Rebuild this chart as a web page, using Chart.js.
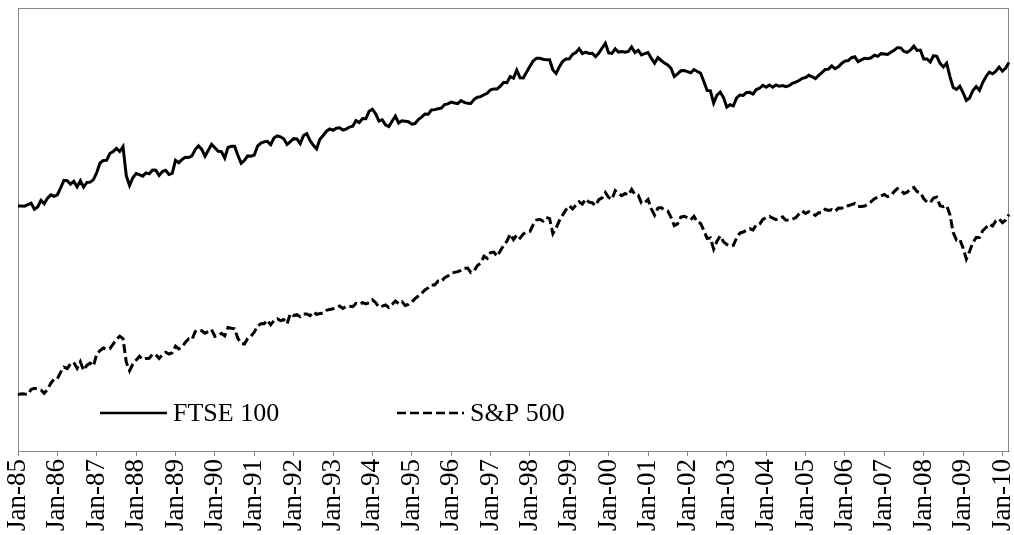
<!DOCTYPE html>
<html>
<head>
<meta charset="utf-8">
<script src="https://cdn.jsdelivr.net/npm/chart.js@4"></script>
<style>
  html, body { margin: 0; padding: 0; background: #fff; }
  #wrap { width: 1014px; height: 535px; }
</style>
</head>
<body>
<div id="wrap"><canvas id="chart1"></canvas></div>
<script>
// monthly closes, Jan-85 .. Mar-10
let ftse100 = [
  1277, 1277, 1275, 1296, 1315, 1235, 1265, 1353, 1306, 1386, 1434, 1413,
  1435, 1543, 1668, 1660, 1603, 1649, 1558, 1661, 1555, 1632, 1636, 1679,
  1808, 1997, 2050, 2055, 2203, 2248, 2323, 2250, 2366, 1749, 1580, 1713,
  1790, 1768, 1742, 1802, 1784, 1857, 1853, 1754, 1826, 1852, 1771, 1793,
  2052, 2002, 2073, 2118, 2114, 2151, 2297, 2387, 2299, 2142, 2277, 2423,
  2338, 2255, 2248, 2103, 2345, 2375, 2375, 2163, 1991, 2050, 2149, 2144,
  2170, 2380, 2456, 2487, 2500, 2415, 2589, 2645, 2622, 2566, 2420, 2493,
  2571, 2562, 2440, 2655, 2708, 2521, 2400, 2313, 2553, 2658, 2778, 2847,
  2807, 2868, 2879, 2813, 2840, 2900, 2927, 3100, 3038, 3171, 3166, 3418,
  3491, 3328, 3086, 3125, 2970, 2919, 3082, 3251, 3026, 3097, 3081, 3066,
  2991, 3009, 3138, 3216, 3320, 3315, 3463, 3477, 3508, 3529, 3664, 3689,
  3760, 3727, 3699, 3818, 3747, 3711, 3703, 3867, 3953, 3980, 4059, 4119,
  4275, 4309, 4313, 4437, 4622, 4604, 4907, 4818, 5244, 4842, 4831, 5136,
  5458, 5767, 5932, 5928, 5870, 5833, 5837, 5249, 5064, 5438, 5743, 5883,
  5896, 6175, 6296, 6552, 6226, 6319, 6231, 6246, 6030, 6255, 6598, 6930,
  6269, 6233, 6540, 6327, 6360, 6313, 6365, 6673, 6294, 6438, 6142, 6223,
  6298, 5918, 5634, 5967, 5796, 5643, 5529, 5345, 4903, 5040, 5204, 5217,
  5165, 5101, 5272, 5166, 5086, 4656, 4246, 4227, 3722, 4040, 4169, 3940,
  3567, 3656, 3613, 3926, 4049, 4031, 4157, 4161, 4091, 4287, 4342, 4477,
  4390, 4492, 4386, 4489, 4431, 4464, 4413, 4459, 4571, 4624, 4703, 4814,
  4852, 4968, 4894, 4801, 4964, 5113, 5282, 5297, 5478, 5317, 5423, 5619,
  5760, 5792, 5965, 6023, 5723, 5833, 5928, 5906, 5961, 6129, 6049, 6221,
  6203, 6172, 6308, 6449, 6621, 6608, 6360, 6303, 6467, 6722, 6432, 6457,
  5880, 5884, 5702, 6087, 6054, 5626, 5412, 5637, 4902, 4377, 4288, 4434,
  4149, 3830, 3926, 4244, 4418, 4249, 4608, 4909, 5134, 5045, 5191, 5413,
  5189, 5355, 5680
];
let sp500 = [
  179.6, 181.2, 180.7, 179.8, 189.6, 191.9, 190.9, 188.6, 182.1, 189.8, 202.2, 211.3,
  211.8, 226.9, 238.9, 235.5, 247.4, 250.8, 236.1, 252.9, 231.3, 244.0, 249.2, 242.2,
  274.1, 284.2, 291.7, 288.4, 290.1, 304.0, 318.7, 329.8, 321.8, 251.8, 230.3, 247.1,
  257.1, 267.8, 258.9, 261.3, 262.2, 273.5, 272.0, 261.5, 271.9, 279.0, 273.7, 277.7,
  297.5, 288.9, 294.9, 309.6, 320.5, 318.0, 346.1, 351.5, 349.2, 340.4, 346.0, 353.4,
  329.1, 331.9, 339.9, 330.8, 361.2, 358.0, 356.2, 322.6, 306.1, 304.0, 322.2, 330.2,
  343.9, 367.1, 375.2, 375.3, 389.8, 371.2, 387.8, 395.4, 387.9, 392.5, 375.2, 417.1,
  408.8, 412.7, 403.7, 414.9, 415.4, 408.1, 424.2, 414.0, 417.8, 418.7, 431.4, 435.7,
  438.8, 443.4, 451.7, 440.2, 450.2, 450.5, 448.1, 463.6, 458.9, 467.8, 461.8, 466.5,
  481.6, 467.1, 445.8, 450.9, 456.5, 444.3, 458.3, 475.5, 462.7, 472.4, 453.7, 459.3,
  470.4, 487.4, 500.7, 514.7, 533.4, 544.8, 562.1, 561.9, 584.4, 581.5, 605.4, 615.9,
  636.0, 640.4, 645.5, 654.2, 669.1, 670.6, 640.0, 652.0, 687.3, 705.3, 757.0, 740.7,
  786.2, 790.8, 757.1, 801.3, 848.3, 885.1, 954.3, 899.5, 947.3, 914.6, 955.4, 970.4,
  980.3, 1049.3, 1101.8, 1111.8, 1090.8, 1133.8, 1120.7, 957.3, 1017.0, 1098.7, 1163.6, 1229.2,
  1279.6, 1238.3, 1286.4, 1335.2, 1301.8, 1372.7, 1328.7, 1320.4, 1282.7, 1362.9, 1388.9, 1469.3,
  1394.5, 1366.4, 1498.6, 1452.4, 1420.6, 1454.6, 1430.8, 1517.7, 1436.5, 1429.4, 1315.2, 1320.3,
  1366.0, 1239.9, 1160.3, 1249.5, 1255.8, 1224.4, 1211.2, 1133.6, 1040.9, 1059.8, 1139.5, 1148.1,
  1130.2, 1106.7, 1147.4, 1076.9, 1067.1, 989.8, 911.6, 916.1, 815.3, 885.8, 936.3, 879.8,
  855.7, 841.2, 848.2, 916.9, 963.6, 974.5, 990.3, 1008.0, 996.0, 1050.7, 1058.2, 1111.9,
  1131.1, 1144.9, 1126.2, 1107.3, 1120.7, 1140.8, 1101.7, 1104.2, 1114.6, 1130.2, 1173.8, 1211.9,
  1181.3, 1203.6, 1180.6, 1156.9, 1191.5, 1191.3, 1234.2, 1220.3, 1228.8, 1207.0, 1249.5, 1248.3,
  1280.1, 1280.7, 1294.8, 1310.6, 1270.1, 1270.2, 1276.7, 1303.8, 1335.9, 1377.9, 1400.6, 1418.3,
  1438.2, 1406.8, 1420.9, 1482.4, 1530.6, 1503.4, 1455.3, 1474.0, 1526.8, 1549.4, 1481.1, 1468.4,
  1378.6, 1330.6, 1322.7, 1385.6, 1400.4, 1280.0, 1267.4, 1282.8, 1166.4, 968.8, 896.2, 903.3,
  825.9, 735.1, 797.9, 872.8, 919.1, 919.3, 987.5, 1020.6, 1057.1, 1036.2, 1095.6, 1115.1,
  1073.9, 1104.5, 1169.4
];
let monthNames = ["Jan", "Feb", "Mar", "Apr", "May", "Jun", "Jul", "Aug", "Sep", "Oct", "Nov", "Dec"];
let seriesNames = ["FTSE 100", "S&P 500"];

// category labels Jan-85 .. Mar-10
let months = [];
for (let i = 0; i < ftse100.length; i++) {
  let yy = (85 + Math.floor(i / 12)) % 100;
  months.push(monthNames[i % 12] + "-" + String(yy).padStart(2, "0"));
}

const axisGrey = "#868686";
const fontFamily = "'Liberation Serif', 'Times New Roman', serif";

// plot frame + legend drawn inside the plot area
const frameAndLegend = {
  id: "frameAndLegend",
  beforeDatasetsDraw(chart) {
    const a = chart.chartArea;
    const c = chart.ctx;
    c.save();
    c.strokeStyle = axisGrey;
    c.lineWidth = 1;
    c.strokeRect(Math.round(a.left) + 0.5, Math.round(a.top) + 0.5,
                 Math.round(a.right - a.left) - 1, Math.round(a.bottom - a.top));
    c.restore();
  },
  afterDatasetsDraw(chart) {
    const a = chart.chartArea;
    const c = chart.ctx;
    const starts = [82, 379];
    const y = a.bottom - 38;
    c.save();
    c.font = "26px " + fontFamily;
    c.textBaseline = "middle";
    c.fillStyle = "#000";
    chart.data.datasets.forEach((ds, i) => {
      const x0 = a.left + starts[i];
      c.beginPath();
      c.setLineDash(ds.borderDash || []);
      c.strokeStyle = ds.borderColor;
      c.lineWidth = 2.5;
      c.moveTo(x0, y);
      c.lineTo(x0 + 67, y);
      c.stroke();
      c.setLineDash([]);
      c.fillText(ds.label, x0 + 73, y + 1);
    });
    c.restore();
  }
};

new Chart("chart1", {
  type: "line",
  data: {
    labels: months,
    datasets: [{
      label: seriesNames[0],
      data: ftse100,
      borderColor: "#000",
      borderWidth: 3,
      pointRadius: 0,
      tension: 0
    }, {
      label: seriesNames[1],
      data: sp500,
      borderColor: "#000",
      borderWidth: 3,
      borderDash: [9, 4],
      pointRadius: 0,
      tension: 0
    }]
  },
  options: {
    responsive: true,
    maintainAspectRatio: false,
    animation: false,
    layout: { padding: { left: 18, top: 8, right: 5, bottom: 0 } },
    plugins: {
      legend: { display: false },
      tooltip: { enabled: false }
    },
    scales: {
      x: {
        type: "category",
        offset: false,
        border: { display: true, color: axisGrey, width: 1 },
        grid: {
          drawOnChartArea: false,
          drawTicks: true,
          tickLength: 5,
          color: ctx => (ctx.index % 12 === 0 ? axisGrey : "rgba(0,0,0,0)")
        },
        ticks: {
          autoSkip: false,
          maxRotation: 90,
          minRotation: 90,
          padding: 3,
          color: "#000",
          font: { family: fontFamily, size: 27 },
          callback: function (value, index) {
            return index % 12 === 0 ? this.getLabelForValue(value) : "";
          }
        },
        afterFit(scale) {
          scale.height = 84;
          scale.paddingLeft = 0;
          scale.paddingRight = 0;
        }
      },
      y: {
        type: "logarithmic",
        min: 100,
        max: 10000,
        display: false
      }
    }
  },
  plugins: [frameAndLegend]
});
</script>
</body>
</html>
